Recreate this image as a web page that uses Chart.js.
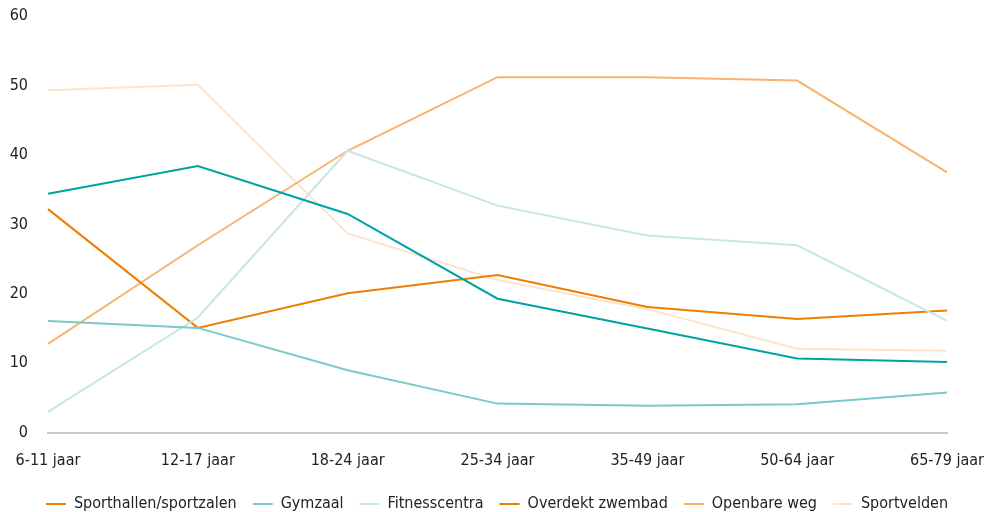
<!DOCTYPE html>
<html>
<head>
<meta charset="utf-8">
<script src="https://cdn.jsdelivr.net/npm/chart.js@4.4.0/dist/chart.umd.min.js"></script>
<style>
    html, body { margin: 0; padding: 0; background: #fff; }
    #wrap { width: 994px; height: 512px; }
</style>
</head>
<body>
<div id="wrap"><canvas id="lineChart"></canvas></div>
<script>
// Age groups on the x axis
const ageGroups = ['6-11 jaar', '12-17 jaar', '18-24 jaar', '25-34 jaar', '35-49 jaar', '50-64 jaar', '65-79 jaar'];
const yTicks = [0, 10, 20, 30, 40, 50, 60];

// Share per location (%)
const sporthallen = [34.4, 38.4, 31.5, 19.3, 15.0, 10.7, 10.2];
const gymzaal = [16.1, 15.1, 9.0, 4.2, 3.9, 4.1, 5.8];
const fitnesscentra = [3.0, 16.6, 40.6, 32.7, 28.4, 27.0, 16.1];
const overdektZwembad = [32.2, 15.1, 20.1, 22.7, 18.1, 16.4, 17.6];
const openbareWeg = [12.8, 27.0, 40.6, 51.2, 51.2, 50.7, 37.5];
const sportvelden = [49.3, 50.1, 28.7, 22.0, 17.8, 12.1, 11.8];

const seriesNames = ['Sporthallen/sportzalen', 'Gymzaal', 'Fitnesscentra', 'Overdekt zwembad', 'Openbare weg', 'Sportvelden'];
const seriesData = [sporthallen, gymzaal, fitnesscentra, overdektZwembad, openbareWeg, sportvelden];
const lineColors = ['#00a2a5', '#7dc9c9', '#c6e7e4', '#ee7d03', '#f7b36f', '#fde5cd'];
// the legend in the original shows the first series in orange
const legendColors = ['#ee7d03', '#7dc9c9', '#c6e7e4', '#ee7d03', '#f7b36f', '#fde5cd'];

const fontFamily = '"DejaVu Sans Condensed", "Liberation Sans", sans-serif';

const ctx = document.getElementById('lineChart').getContext('2d');
const lineChart = new Chart(ctx, {
    type: 'line',
    data: {
        labels: ageGroups,
        datasets: seriesNames.map((name, i) => ({
            label: name,
            data: seriesData[i],
            borderColor: lineColors[i],
            backgroundColor: lineColors[i],
            borderWidth: 2,
            pointRadius: 0,
            tension: 0,
            fill: false,
            order: i === 0 ? 0 : 1
        }))
    },
    options: {
        responsive: true,
        maintainAspectRatio: false,
        animation: false,
        layout: {
            padding: { top: 0, right: 0, left: 0, bottom: -10 }
        },
        plugins: {
            tooltip: { enabled: false },
            legend: {
                position: 'bottom',
                labels: {
                    color: '#222',
                    boxWidth: 20,
                    boxHeight: 2,
                    padding: 16,
                    font: { family: fontFamily, size: 16 },
                    generateLabels: function (chart) {
                        return chart.data.datasets.map((ds, i) => ({
                            text: ds.label,
                            fillStyle: legendColors[i],
                            strokeStyle: legendColors[i],
                            lineWidth: 0,
                            fontColor: '#222',
                            hidden: false,
                            datasetIndex: i
                        }));
                    }
                }
            }
        },
        scales: {
            x: {
                offset: false,
                grid: { display: false },
                border: { display: true, color: '#c8c8c8', width: 2 },
                ticks: {
                    color: '#222',
                    padding: 10,
                    maxRotation: 0,
                    font: { family: fontFamily, size: 16 }
                }
            },
            y: {
                min: 0,
                max: 60,
                afterBuildTicks: axis => { axis.ticks = yTicks.map(v => ({ value: v })); },
                afterFit: axis => { axis.width = 48; axis.paddingTop = 16; },
                grid: { display: false },
                border: { display: false },
                ticks: {
                    color: '#222',
                    padding: 12,
                    font: { family: fontFamily, size: 16 }
                }
            }
        }
    }
});
</script>
</body>
</html>
